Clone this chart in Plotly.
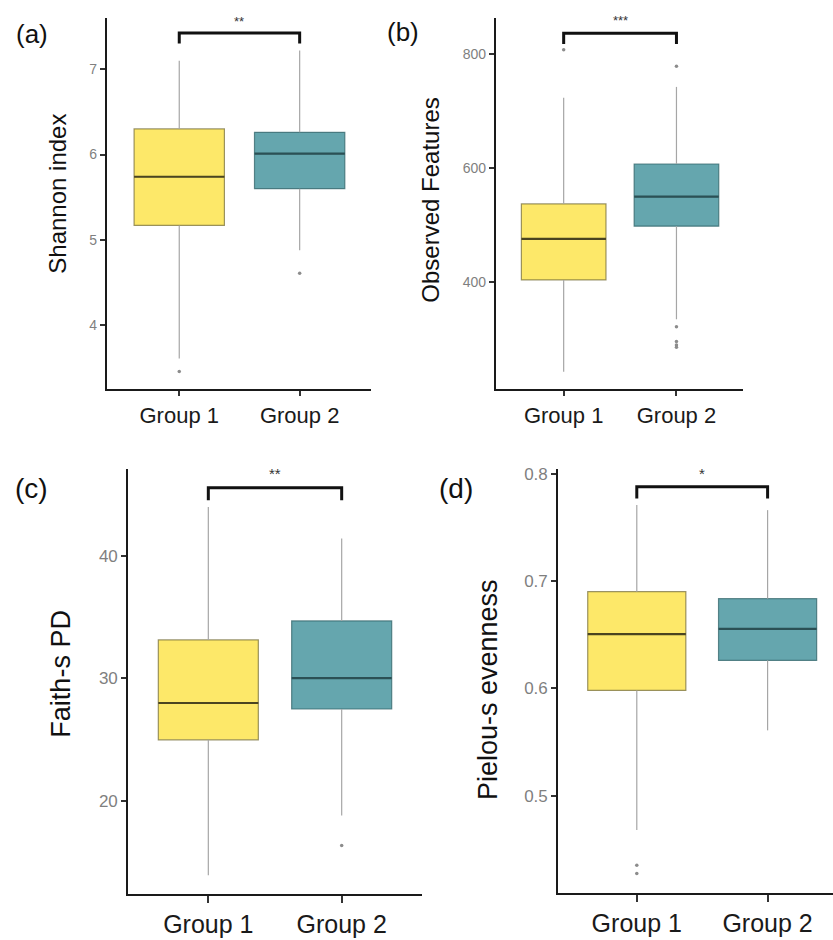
import plotly.graph_objects as go

W, H = 833, 940

groups = ["Group 1", "Group 2"]
panel_labels = ["(a)", "(b)", "(c)", "(d)"]
y_titles = ["Shannon index", "Observed Features", "Faith-s PD", "Pielou-s evenness"]
signif = ["**", "***", "**", "*"]

# per panel: [group1, group2] statistics
shannon_q1 = [5.17, 5.60]
shannon_med = [5.74, 6.01]
shannon_q3 = [6.30, 6.26]
shannon_lo = [3.61, 4.88]
shannon_hi = [7.10, 7.22]
shannon_out = [[3.46], [4.61]]

obs_q1 = [404, 498]
obs_med = [476, 550]
obs_q3 = [537, 607]
obs_lo = [243, 335]
obs_hi = [723, 742]
obs_out = [[807], [778, 322, 296, 290, 286]]

faith_q1 = [24.96, 27.48]
faith_med = [27.97, 30.0]
faith_q3 = [33.12, 34.67]
faith_lo = [13.9, 18.78]
faith_hi = [43.98, 41.4]
faith_out = [[], [16.34]]

piel_q1 = [0.598, 0.626]
piel_med = [0.6505, 0.6553]
piel_q3 = [0.690, 0.6835]
piel_lo = [0.468, 0.5608]
piel_hi = [0.7707, 0.766]
piel_out = [[0.4351, 0.4274], []]

# bracket (leg bottom, bar top, star level)
brackets = [(7.30, 7.425, 7.56), (817, 836, 858), (44.53, 45.55, 46.75), (0.7768, 0.7877, 0.8005)]
y_ranges = [[3.25, 7.60], [212.8, 862.8], [12.36, 47.1], [0.4097, 0.8046]]
y_ticks = [[4, 5, 6, 7], [400, 600, 800], [20, 30, 40], [0.5, 0.6, 0.7, 0.8]]
y_ticktext = [["4", "5", "6", "7"], ["400", "600", "800"], ["20", "30", "40"], ["0.5", "0.6", "0.7", "0.8"]]
x_ranges = [[0.4, 2.59], [0.4, 2.59], [0.4, 2.6], [0.4, 2.5]]

stats = [
    (shannon_q1, shannon_med, shannon_q3, shannon_lo, shannon_hi, shannon_out),
    (obs_q1, obs_med, obs_q3, obs_lo, obs_hi, obs_out),
    (faith_q1, faith_med, faith_q3, faith_lo, faith_hi, faith_out),
    (piel_q1, piel_med, piel_q3, piel_lo, piel_hi, piel_out),
]

# layout in pixels: left, right, top, bottom of each plot area
px = [(107, 370.7, 14, 387), (496, 743, 14, 386.7), (128.3, 421.7, 466.7, 894), (558.3, 833, 466.7, 892.3)]
tick_fs = [14, 14, 17, 17]
star_fs = [13, 13, 15, 15]
grp_fs = [22, 22, 25, 25]
title_fs = [24, 24, 27, 27]
lab_fs = [26, 26, 28, 28]
title_pos = [(57.5, 191), (431, 196.5), (61, 672.5), (488, 688)]
label_pos = [(32, 30), (403, 28), (32, 487), (456, 487)]
x_ticklen = [5, 5, 7, 7]

fills = ["#FDE869", "#65A6AE"]
edges = ["rgba(120,112,60,0.75)", "rgba(50,100,106,0.75)"]
medcols = ["#4A4420", "#2B5055"]
BOXW = 0.75

FONT = "Liberation Sans, Arial, sans-serif"

fig = go.Figure()
annotations = []
layout_axes = {}

for p in range(4):
    q1, med, q3, lo, hi, outs = stats[p]
    xa = "x" if p == 0 else f"x{p+1}"
    ya = "y" if p == 0 else f"y{p+1}"
    for g in range(2):
        xc = g + 1
        # whiskers
        fig.add_trace(go.Scatter(x=[xc, xc, None, xc, xc], y=[q3[g], hi[g], None, q1[g], lo[g]],
                                 mode="lines", line=dict(color="#A6A6A6", width=1.2),
                                 xaxis=xa, yaxis=ya, showlegend=False, hoverinfo="skip"))
        # box
        fig.add_trace(go.Box(x=[xc], q1=[q1[g]], median=[med[g]], q3=[q3[g]],
                             lowerfence=[q1[g]], upperfence=[q3[g]], width=BOXW,
                             fillcolor=fills[g], line=dict(color=edges[g], width=1.2),
                             whiskerwidth=0, boxpoints=False,
                             xaxis=xa, yaxis=ya, showlegend=False))
        # median line
        fig.add_trace(go.Scatter(x=[xc - BOXW / 2, xc + BOXW / 2], y=[med[g], med[g]],
                                 mode="lines", line=dict(color=medcols[g], width=2.2),
                                 xaxis=xa, yaxis=ya, showlegend=False, hoverinfo="skip"))
        # outliers
        if outs[g]:
            fig.add_trace(go.Scatter(x=[xc] * len(outs[g]), y=outs[g], mode="markers",
                                     marker=dict(color="#8C8C8C", size=3.5),
                                     xaxis=xa, yaxis=ya, showlegend=False))
    # bracket
    leg, bar, star = brackets[p]
    fig.add_trace(go.Scatter(x=[1, 1, 2, 2], y=[leg, bar, bar, leg], mode="lines",
                             line=dict(color="#111111", width=3),
                             xaxis=xa, yaxis=ya, showlegend=False, hoverinfo="skip"))
    annotations.append(dict(x=1.5, y=star, xref=xa, yref=ya, text=signif[p], showarrow=False,
                            font=dict(size=star_fs[p], color="#333333", family=FONT)))

    l, r, t, b = px[p]
    xkey = "xaxis" if p == 0 else f"xaxis{p+1}"
    ykey = "yaxis" if p == 0 else f"yaxis{p+1}"
    layout_axes[xkey] = dict(domain=[l / W, min(r / W, 1.0)], range=x_ranges[p], anchor=ya,
                             tickvals=[1, 2], ticktext=groups, showline=True, linecolor="#1a1a1a",
                             linewidth=2.2, ticks="outside", ticklen=x_ticklen[p], tickwidth=1.5,
                             tickcolor="#333333", showgrid=False, zeroline=False,
                             tickfont=dict(size=grp_fs[p], color="#1a1a1a", family=FONT))
    layout_axes[ykey] = dict(domain=[1 - b / H, 1 - t / H], range=y_ranges[p], anchor=xa,
                             tickvals=y_ticks[p], ticktext=y_ticktext[p], showline=True,
                             linecolor="#1a1a1a", linewidth=2.2, ticks="outside", ticklen=5,
                             tickwidth=1.5, tickcolor="#333333", showgrid=False, zeroline=False,
                             tickfont=dict(size=tick_fs[p], color="#7f7f7f", family=FONT))
    tx, ty = title_pos[p]
    annotations.append(dict(x=tx / W, y=1 - ty / H, xref="paper", yref="paper", text=y_titles[p],
                            textangle=-90, showarrow=False, xanchor="center", yanchor="middle",
                            font=dict(size=title_fs[p], color="#111111", family=FONT)))
    lx, ly = label_pos[p]
    annotations.append(dict(x=lx / W, y=1 - ly / H, xref="paper", yref="paper", text=panel_labels[p],
                            showarrow=False, xanchor="center", yanchor="middle",
                            font=dict(size=lab_fs[p], color="#111111", family=FONT)))

fig.update_layout(width=W, height=H, margin=dict(l=0, r=0, t=0, b=0),
                  paper_bgcolor="white", plot_bgcolor="white",
                  annotations=annotations, showlegend=False, **layout_axes)

fig.write_html("out.html", config={"displayModeBar": False},
               post_script="document.body.style.margin='0';document.body.style.padding='0';"
                           "document.documentElement.style.overflow='hidden';")
